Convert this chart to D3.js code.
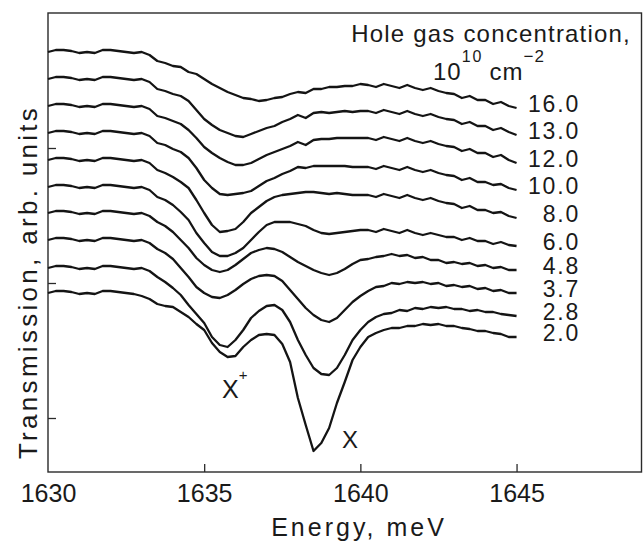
<!DOCTYPE html>
<html><head><meta charset="utf-8">
<script src="https://cdn.jsdelivr.net/npm/d3@7"></script>
<style>body{margin:0;background:#fff}</style>
</head><body><svg id="c" width="644" height="543"></svg>
<script>
// Energy grid (meV): 1630 .. 1645 in 0.25 meV steps
const energyStart = 1630, energyStep = 0.25;
const concentrations = ["16.0","13.0","12.0","10.0","8.0","6.0","4.8","3.7","2.8","2.0"];
// Transmission, arb. units (tick spacing = 135 units)
const t160 = [366,368,368,367,365,366,365,368,368,367,366,365,366,
 363,357,355,352,351,346,344,339,334,330,326,323,320,319,317,318,320,321,324,326,325,329,329,331,331,332,332,334,
 333,331,334,332,330,333,330,328,330,327,325,324,320,322,318,318,314,316,312,310];
const t130 = [339,341,341,340,338,339,338,341,341,340,339,338,339,
 336,329,327,324,322,317,308,299,293,288,285,282,281,284,287,290,292,296,299,303,300,305,306,305,306,307,306,307,
 307,305,308,306,304,307,304,302,304,301,299,298,294,296,292,292,288,290,286,283];
const t120 = [312,314,314,313,311,312,311,314,314,313,312,311,312,
 309,302,300,297,294,288,280,271,265,260,256,253,253,255,259,263,266,269,272,276,273,278,279,279,280,280,280,280,
 280,278,281,279,277,280,277,275,277,274,272,271,267,269,265,265,261,263,258,255];
const t100 = [285,287,287,286,284,285,284,287,287,286,285,284,285,
 282,275,273,269,266,260,250,238,230,224,223,224,225,227,232,237,240,244,247,251,250,252,252,252,252,252,251,251,
 251,249,252,250,248,251,248,246,248,245,243,242,238,240,236,236,233,234,230,228];
const t80 = [258,260,260,259,257,258,257,260,260,259,258,257,258,
 255,248,245,241,236,230,218,205,193,186,187,189,196,205,211,217,221,223,224,225,226,226,225,224,225,224,223,223,
 223,221,224,222,220,223,220,218,220,217,215,214,210,212,208,208,205,206,202,200];
const t60 = [231,233,233,232,230,231,230,233,233,232,231,230,231,
 228,221,218,213,206,198,185,175,166,162,162,165,170,178,186,193,196,196,196,194,192,188,185,184,185,186,187,188,
 188,186,189,187,185,188,185,183,185,183,181,181,178,180,177,177,174,176,173,172];
const t48 = [205,207,207,206,204,205,204,207,207,206,205,204,205,
 202,196,192,186,178,170,160,153,148,146,148,153,159,165,168,170,169,166,161,156,152,148,145,143,145,149,154,158,
 159,161,162,164,162,163,160,161,158,158,155,156,154,155,152,153,150,151,148,148];
const t37 = [178,180,180,179,177,178,177,180,180,179,178,177,178,
 175,169,165,159,150,141,131,125,121,120,123,128,134,139,142,143,142,137,128,119,110,103,98,96,100,108,116,122,
 127,131,132,135,134,136,135,136,134,135,132,133,131,132,129,130,127,128,125,125];
const t28 = [150,152,152,151,149,150,149,152,152,151,150,149,150,
 147,141,136,130,123,113,104,95,81,73,71,78,88,100,107,112,113,108,96,78,63,50,44,43,50,63,78,88,
 96,101,104,105,108,107,110,109,111,110,111,109,109,107,108,106,106,104,103,102];
const t20 = [125,127,127,126,124,125,124,127,127,126,125,124,122,
 119,114,112,111,106,101,94,88,75,66,61,62,71,78,83,84,83,74,56,20,-7,-33,-25,-10,15,36,58,71,
 81,85,88,90,90,92,92,94,93,94,92,92,90,89,87,87,85,84,81,81];
const spectra = [t160,t130,t120,t100,t80,t60,t48,t37,t28,t20];
const xTicks = [1635,1640,1645];
const xLabels = [1630,1635,1640,1645];
const yTicks = [0,135,270];

const svg = d3.select("#c");
const L=48, T=13, R=641.5, B=472;
const x = d3.scaleLinear().domain([1630,1649]).range([L,R]);
const y = d3.scaleLinear().domain([-54,405]).range([B,T]);
const font = "'Liberation Sans', Arial, Helvetica, sans-serif";

// frame
svg.append("rect").attr("x",L).attr("y",T).attr("width",R-L).attr("height",B-T)
  .attr("fill","none").attr("stroke","#2a2a2a").attr("stroke-width",1.4);

// x axis ticks (inside)
const gx = svg.append("g").attr("transform",`translate(0,${B})`)
  .call(d3.axisBottom(x).tickValues(xLabels).tickSizeInner(-8).tickSizeOuter(0).tickPadding(12).tickFormat(d3.format("d")));
gx.select(".domain").remove();
gx.selectAll(".tick line").attr("stroke","#2a2a2a").attr("stroke-width",1.3)
  .filter(d=>!xTicks.includes(d)).remove();
gx.selectAll(".tick text").attr("font-family",font).attr("font-size",25).attr("fill","#1a1a1a");

// y axis ticks (inside, unlabeled)
const gy = svg.append("g").attr("transform",`translate(${L},0)`)
  .call(d3.axisLeft(y).tickValues(yTicks).tickSizeInner(-8).tickSizeOuter(0).tickFormat(""));
gy.select(".domain").remove();
gy.selectAll(".tick line").attr("stroke","#2a2a2a").attr("stroke-width",1.3);

// curves
const line = d3.line().x((d,i)=>x(energyStart+energyStep*i)).y(d=>y(d));
svg.append("g").selectAll("path").data(spectra).join("path")
  .attr("d",line).attr("fill","none").attr("stroke","#141414")
  .attr("stroke-width",2.3).attr("stroke-linejoin","round");

// concentration labels
svg.append("g").selectAll("text").data(spectra).join("text")
  .attr("x",580).attr("y",d=>y(d[d.length-1])+4)
  .attr("text-anchor","end").attr("font-family",font).attr("font-size",23)
  .attr("letter-spacing",1.8).attr("fill","#1a1a1a")
  .text((d,i)=>concentrations[i]);

// legend title
svg.append("text").attr("x",631).attr("y",42).attr("text-anchor","end")
  .attr("font-family",font).attr("font-size",24).attr("letter-spacing",1.2).attr("fill","#1a1a1a")
  .text("Hole gas concentration,");
const u = svg.append("text").attr("x",433).attr("y",80)
  .attr("font-family",font).attr("font-size",24).attr("letter-spacing",1).attr("fill","#1a1a1a");
u.append("tspan").text("10");
u.append("tspan").attr("dy",-18).attr("font-size",16).attr("letter-spacing",2).text("10");
u.append("tspan").attr("dy",18).attr("dx",6).text("cm");
u.append("tspan").attr("dy",-18).attr("font-size",17).text("\u22122");

// peak labels
const xp = svg.append("text").attr("x",222).attr("y",398).attr("font-family",font)
  .attr("font-size",25).attr("fill","#1a1a1a");
xp.append("tspan").text("X");
xp.append("tspan").attr("dy",-18).attr("font-size",15).text("+");
svg.append("text").attr("x",342).attr("y",448).attr("font-family",font)
  .attr("font-size",24).attr("fill","#1a1a1a").text("X");

// axis titles
svg.append("text").attr("x",359).attr("y",536).attr("text-anchor","middle")
  .attr("font-family",font).attr("font-size",25).attr("letter-spacing",3).attr("fill","#1a1a1a")
  .text("Energy, meV");
svg.append("text").attr("transform","translate(37,282) rotate(-90)").attr("text-anchor","middle")
  .attr("font-family",font).attr("font-size",26).attr("letter-spacing",3.3).attr("fill","#1a1a1a")
  .text("Transmission, arb. units");
</script></body></html>
